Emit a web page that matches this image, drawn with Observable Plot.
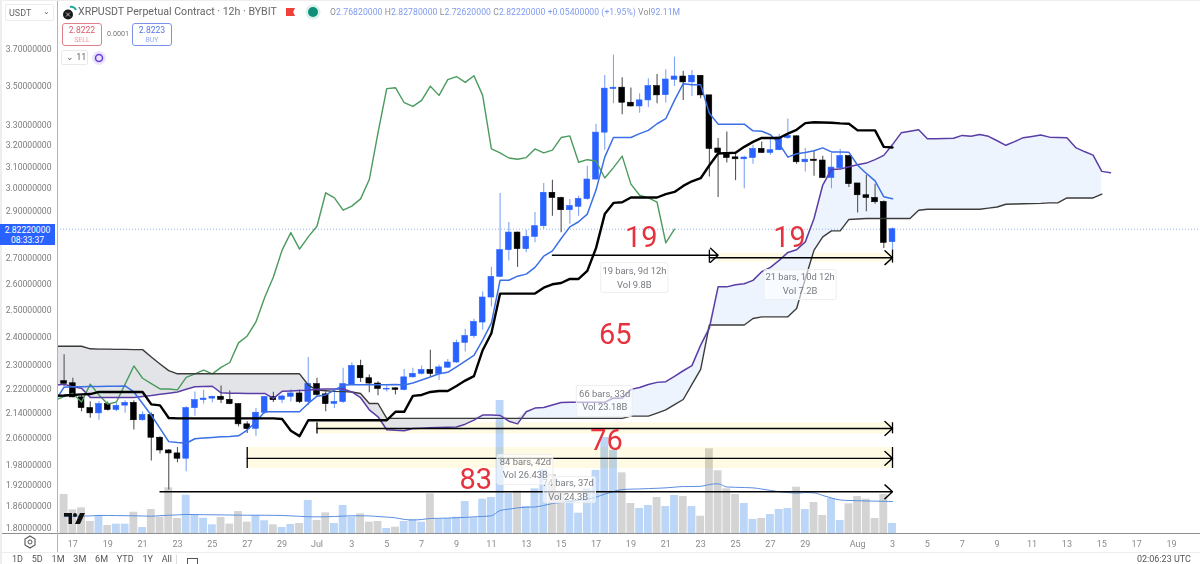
<!DOCTYPE html>
<html><head><meta charset="utf-8">
<script src="https://cdn.jsdelivr.net/npm/d3@7"></script>
<script src="https://cdn.jsdelivr.net/npm/@observablehq/plot@0.6"></script>
<style>
html,body{margin:0;padding:0;background:#fff;font-family:Roboto,sans-serif;}
#wrap{position:relative;width:1200px;height:564px;overflow:hidden;background:#fff;}
#wrap svg.plot,#vol svg,#main svg{position:absolute;left:0;top:0;background:transparent;}
.o{position:absolute;white-space:nowrap;}
</style></head><body>
<div id="wrap">
<div id="vol"></div><div id="main"></div>
<div class="o" style="left:0;top:533px;width:1200px;height:1px;background:#8f8f8f"></div>
<div class="o" style="left:0;top:552px;width:1200px;height:1px;background:#eeeeee"></div>
<div class="o" style="left:56.5px;top:0;width:1.5px;height:552px;background:#b4b4b4"></div>
<div class="o" style="left:0;top:0;width:2px;height:564px;background:#eeeeee"></div>
<div class="o" style="left:0;top:0;width:1200px;height:1px;background:#eeeeee"></div>
<div class="o" style="left:0;top:224px;width:55px;height:21px;background:#2962ff;color:#fff;font-size:8.6px;text-align:center;line-height:10px;padding-top:1px;box-sizing:border-box">2.82220000<br>08:33:37</div>
<div class="o" style="left:5px;top:4px;width:49px;height:17px;border:1px solid #ececec;border-radius:2px;box-sizing:border-box;font-size:9px;color:#666;line-height:16px;padding-left:3px">USDT<span style="position:absolute;right:3px;top:-1px;font-size:8px">⌄</span></div>
<svg class="o" style="left:62px;top:5px" width="16" height="16" viewBox="0 0 16 16"><circle cx="6" cy="9.5" r="5" fill="#1a1a1a"/><path d="M8 2a5 5 0 0 1 6 3" stroke="#21a79b" stroke-width="2" fill="none"/><path d="M4 7.5l4 4M8 7.5l-4 4" stroke="#ddd" stroke-width=".8"/></svg>
<div class="o" style="left:78px;top:5px;font-size:10.6px;color:#666;line-height:14px">XRPUSDT Perpetual Contract · 12h · BYBIT</div>
<div class="o" style="left:286px;top:8px;width:9px;height:8px;background:#f1403c;clip-path:polygon(0 0,100% 0,80% 50%,100% 100%,0 100%)"></div>
<div class="o" style="left:308px;top:7px;width:10px;height:10px;border-radius:50%;background:#0f8f78;box-shadow:0 0 0 2.5px #dcf0ec"></div>
<div class="o" style="left:330px;top:6px;font-size:8.6px;letter-spacing:.08px;color:#8e8e8e;line-height:13px">O<span style="color:#7f9bee">2.76820000</span> H<span style="color:#7f9bee">2.82780000</span> L<span style="color:#7f9bee">2.72620000</span> C<span style="color:#7f9bee">2.82220000</span> <span style="color:#7f9bee">+0.05400000 (+1.95%)</span> Vol<span style="color:#7f9bee">92.11M</span></div>
<div class="o" style="left:62px;top:23px;width:40px;height:23px;border:1px solid #e0808c;border-radius:3px;box-sizing:border-box;text-align:center;font-size:8.6px;line-height:9px;padding-top:2px;color:#dc5c6a">2.8222<br><span style="font-size:7px;color:#ef9aa3">SELL</span></div>
<div class="o" style="left:107px;top:29px;font-size:7.2px;color:#777;line-height:10px">0.0001</div>
<div class="o" style="left:132px;top:23px;width:40px;height:23px;border:1px solid #7a92e8;border-radius:3px;box-sizing:border-box;text-align:center;font-size:8.6px;line-height:9px;padding-top:2px;color:#5576e6">2.8223<br><span style="font-size:7px;color:#96aaf0">BUY</span></div>
<div class="o" style="left:61px;top:50px;width:27px;height:15px;border:1px solid #e9e9e9;border-radius:2px;box-sizing:border-box;font-size:9px;color:#666;line-height:13px;padding-left:4px">⌄ 11</div>
<svg class="o" style="left:92px;top:51px" width="14" height="14" viewBox="0 0 14 14"><circle cx="7" cy="7" r="7" fill="#ece6fb"/><circle cx="7" cy="7" r="3.5" fill="none" stroke="#6a3fe0" stroke-width="1.6"/></svg>
<svg class="o" style="left:64px;top:513px" width="22" height="12" viewBox="0 0 22 12"><path d="M0 0h8v11h-3.5v-7.5h-4.5z" fill="#111"/><circle cx="11" cy="2" r="2" fill="#111"/><path d="M16 0h5l-5 11h-5z" fill="#111"/></svg>
<svg class="o" style="left:23px;top:535px" width="14" height="14" viewBox="0 0 14 14"><path d="M7 1l5 3v6l-5 3-5-3v-6z" fill="none" stroke="#555" stroke-width="1.1"/><circle cx="7" cy="7" r="2" fill="none" stroke="#555" stroke-width="1"/></svg>
<div class="o" style="left:12px;top:554px;font-size:9px;color:#555;line-height:10px;word-spacing:6.6px">1D 5D 1M 3M 6M YTD 1Y All</div>
<div class="o" style="left:176px;top:555px;width:1px;height:9px;background:#ddd"></div>
<div class="o" style="left:187px;top:558px;width:11px;height:8px;border:1px solid #555;box-sizing:border-box"></div>
<div class="o" style="left:1137px;top:554px;font-size:9px;color:#555;line-height:10px">02:06:23 UTC</div>
</div>
<script>
const priceTicks=[3.7,3.5,3.3,3.2,3.1,3.0,2.9,2.7,2.6,2.5,2.4,2.3,2.22,2.14,2.06,1.98,1.92,1.86,1.8];
const tickBars=[1,5,9,13,17,21,25,29,33,37,41,45,49,53,57,61,65,69,73,77,81,85,91,95,99,103,107,111,115,119,123,127];
const tickLabels=["17","19","21","23","25","27","29","Jul","3","5","7","9","11","13","15","17","19","21","23","25","27","29","Aug","3","5","7","9","11","13","15","17","19"];
const opens=[2.246,2.239,2.192,2.157,2.140,2.170,2.151,2.165,2.174,2.118,2.135,2.063,2.024,2.015,1.999,2.157,2.183,2.188,2.194,2.184,2.170,2.105,2.091,2.142,2.193,2.184,2.194,2.205,2.177,2.236,2.202,2.171,2.177,2.234,2.298,2.256,2.238,2.218,2.222,2.216,2.259,2.271,2.284,2.271,2.292,2.310,2.379,2.403,2.453,2.547,2.627,2.735,2.808,2.739,2.790,2.835,2.981,2.958,2.904,2.919,2.953,3.041,3.263,3.484,3.491,3.413,3.394,3.425,3.499,3.452,3.533,3.550,3.519,3.554,3.451,3.186,3.165,3.144,3.135,3.141,3.184,3.165,3.178,3.236,3.245,3.121,3.133,3.129,3.048,3.093,3.150,3.023,2.970,2.958,2.940,2.7682];
const highs=[2.337,2.256,2.200,2.178,2.178,2.177,2.172,2.181,2.181,2.145,2.141,2.066,2.027,2.033,2.161,2.210,2.216,2.196,2.230,2.213,2.172,2.113,2.156,2.195,2.209,2.200,2.218,2.216,2.327,2.256,2.210,2.208,2.290,2.309,2.318,2.267,2.244,2.231,2.224,2.286,2.290,2.298,2.353,2.301,2.320,2.389,2.428,2.465,2.569,2.665,2.978,2.851,2.810,2.818,2.894,3.023,3.038,2.961,2.951,2.966,3.102,3.304,3.556,3.666,3.543,3.489,3.460,3.538,3.561,3.587,3.655,3.579,3.583,3.556,3.451,3.234,3.266,3.162,3.149,3.202,3.218,3.234,3.255,3.330,3.247,3.186,3.173,3.149,3.162,3.181,3.150,3.024,3.060,3.020,2.945,2.8278];
const lows=[2.227,2.191,2.145,2.124,2.118,2.148,2.145,2.140,2.087,2.115,1.992,2.013,1.907,1.987,1.960,2.131,2.170,2.174,2.172,2.168,2.097,2.076,2.068,2.137,2.175,2.172,2.177,2.172,2.165,2.196,2.145,2.156,2.172,2.233,2.242,2.207,2.197,2.210,2.200,2.214,2.256,2.267,2.259,2.248,2.290,2.307,2.347,2.395,2.425,2.511,2.626,2.691,2.665,2.724,2.765,2.822,2.878,2.807,2.843,2.878,2.948,3.038,3.178,3.408,3.352,3.391,3.360,3.388,3.408,3.411,3.498,3.425,3.445,3.434,3.053,2.960,3.118,3.036,2.999,3.112,3.162,3.154,3.175,3.231,3.112,3.076,3.056,3.047,2.999,3.089,3.005,2.892,2.897,2.930,2.742,2.7262];
const closes=[2.237,2.192,2.157,2.140,2.170,2.151,2.164,2.174,2.118,2.135,2.063,2.024,2.015,1.999,2.157,2.183,2.188,2.194,2.184,2.170,2.105,2.090,2.142,2.193,2.183,2.195,2.205,2.177,2.236,2.200,2.170,2.177,2.236,2.298,2.256,2.238,2.220,2.220,2.217,2.259,2.271,2.284,2.271,2.293,2.310,2.379,2.404,2.455,2.547,2.627,2.735,2.808,2.739,2.790,2.835,2.981,2.958,2.904,2.922,2.954,3.041,3.263,3.486,3.491,3.413,3.394,3.425,3.499,3.451,3.534,3.550,3.519,3.554,3.451,3.184,3.165,3.141,3.135,3.143,3.184,3.165,3.178,3.239,3.247,3.121,3.133,3.127,3.048,3.096,3.150,3.020,2.970,2.958,2.939,2.765,2.8222];
const volumes=[359,218,236,110,166,74,86,86,196,55,221,150,420,138,352,175,141,80,147,86,202,104,166,117,80,55,83,92,304,120,190,92,258,150,181,104,110,46,58,110,129,104,365,129,135,150,294,144,316,331,1224,368,389,248,411,586,543,368,304,187,411,580,883,764,558,276,230,258,331,248,350,340,248,159,779,577,411,359,276,129,138,175,221,230,426,221,285,166,322,120,273,340,316,138,359,92];
const volumeMA=[156,158,160,162,166,166,165,164,163,161,159,164,168,171,175,174,173,172,171,170,169,168,168,168,167,166,162,158,154,153,154,156,160,163,163,162,156,151,144,130,124,129,138,140,142,145,148,153,157,163,212,224,236,242,244,258,276,285,294,306,316,334,363,386,405,408,410,413,416,420,426,432,432,434,451,457,428,425,423,420,409,396,384,377,371,377,374,350,327,308,304,302,299,298,296,294];
// Ichimoku: first entry of tenkan, kijun and senkouB is the partly hidden bar just left of the first candle.
const tenkan=[2.181,2.226,2.227,2.227,2.228,2.228,2.229,2.229,2.230,2.210,2.172,2.134,2.092,2.051,2.048,2.046,2.060,2.062,2.064,2.066,2.067,2.069,2.087,2.113,2.145,2.145,2.145,2.145,2.145,2.172,2.196,2.200,2.216,2.233,2.234,2.234,2.234,2.234,2.234,2.235,2.233,2.240,2.250,2.260,2.271,2.276,2.295,2.315,2.335,2.389,2.451,2.614,2.614,2.630,2.638,2.665,2.710,2.732,2.783,2.832,2.854,2.887,2.993,3.145,3.239,3.239,3.239,3.258,3.274,3.307,3.332,3.425,3.512,3.507,3.507,3.359,3.305,3.305,3.305,3.305,3.272,3.270,3.253,3.210,3.145,3.161,3.167,3.175,3.189,3.170,3.169,3.168,3.107,3.069,3.035,2.963,2.954];
const kijun=[2.197,2.198,2.200,2.202,2.203,2.210,2.210,2.210,2.210,2.210,2.210,2.169,2.166,2.125,2.124,2.124,2.124,2.124,2.124,2.124,2.124,2.124,2.124,2.124,2.124,2.124,2.122,2.085,2.068,2.118,2.118,2.118,2.118,2.118,2.118,2.118,2.118,2.118,2.118,2.145,2.145,2.197,2.200,2.210,2.213,2.213,2.230,2.248,2.263,2.353,2.414,2.562,2.562,2.562,2.562,2.562,2.585,2.598,2.603,2.619,2.619,2.651,2.743,2.887,2.936,2.939,2.960,2.960,2.960,2.960,2.975,2.985,3.012,3.033,3.047,3.107,3.162,3.164,3.166,3.194,3.218,3.237,3.237,3.237,3.258,3.277,3.310,3.314,3.313,3.312,3.309,3.307,3.274,3.274,3.274,3.194,3.191];
const senkouAEarly=[2.233,2.236,2.227,2.222,2.192,2.192,2.192,2.192,2.192,2.192,2.195,2.198,2.202,2.206,2.210,2.219,2.227,2.228,2.229,2.207,2.206,2.206,2.205,2.205,2.205];
const senkouB=[2.367,2.367,2.367,2.367,2.358,2.357,2.357,2.356,2.356,2.355,2.355,2.329,2.305,2.282,2.271,2.271,2.271,2.271,2.271,2.271,2.271,2.271,2.271,2.271,2.271,2.271,2.271,2.271,2.271,2.233,2.216,2.214,2.212,2.211,2.210,2.205,2.172,2.172,2.124,2.124,2.124,2.124,2.124,2.124,2.124,2.124,2.124,2.124,2.124,2.124,2.124,2.124,2.124,2.124,2.124,2.124,2.124,2.124,2.124,2.124,2.124,2.124,2.124,2.124,2.124,2.124,2.131,2.131,2.131,2.141,2.151,2.168,2.185,2.235,2.286,2.444,2.444,2.444,2.444,2.444,2.468,2.474,2.474,2.474,2.474,2.505,2.62,2.735,2.790,2.815,2.815,2.864,2.866,2.868,2.868,2.868,2.868,2.868,2.868,2.904,2.908,2.908,2.908,2.908,2.908,2.908,2.908,2.913,2.918,2.930,2.931,2.932,2.933,2.934,2.936,2.937,2.958,2.958,2.958,2.958,2.975];
// Date-range tools
const toolStart=[56,74,29,21,11], toolEnd=[75,95,95,95,95], toolPrice=[2.714,2.704,2.092,2.000,1.902];
const bandStart=[75,29,21], bandEnd=[95,95,95], bandHigh=[2.722,2.110,2.033], bandLow=[2.686,2.075,1.970];
const capBar=[74,95,29,95,21,95], capHigh=[2.735,2.735,2.110,2.110,2.033,2.033], capLow=[2.682,2.682,2.075,2.075,1.970,1.970];
const boxStart=[61.6,80.3,58.8,55,49.7], boxEnd=[69.3,88.6,65.2,61,56.1], boxHigh=[2.682,2.654,2.230,1.945,2.010], boxLow=[2.564,2.537,2.128,1.870,1.922];
const boxBar=[65.4,84.4,62,57.8,52.9];
const boxLine1=["19 bars, 9d 12h","21 bars, 10d 12h","66 bars, 33d","74 bars, 37d","84 bars, 42d"], boxLine1Price=[2.650,2.626,2.203,1.927,1.989];
const boxLine2=["Vol 9.8B","Vol 7.2B","Vol 23.18B","Vol 24.3B","Vol 26.43B"], boxLine2Price=[2.595,2.571,2.159,1.887,1.950];
const noteText=["19","19","65","76","83"], noteBar=[66.2,83.2,63.2,62.2,47.2], notePrice=[2.788,2.788,2.409,2.053,1.938];

const bars=opens.map((o,i)=>({i,o,h:highs[i],l:lows[i],c:closes[i],v:volumes[i],ma:volumeMA[i],up:closes[i]>=o}));
const series=(arr,start)=>arr.map((y,k)=>({i:k+start,y}));
const senkouA=senkouAEarly.concat(tenkan.map((t,k)=>(t+kijun[k])/2));
const cloud=senkouB.map((b,k)=>({i:k-1,a:senkouA[k],b,top:Math.max(senkouA[k],b)}));
const chikou=closes.slice(24).map((y,k)=>({i:k-1,y}));
const tools=toolStart.map((s,k)=>({s,e:toolEnd[k],p:toolPrice[k]}));
const bands=bandStart.map((s,k)=>({s,e:bandEnd[k],h:bandHigh[k],l:bandLow[k]}));
const caps=capBar.map((i,k)=>({i,h:capHigh[k],l:capLow[k]}));
const notes=noteText.map((t,k)=>({t,i:noteBar[k],p:notePrice[k]}));
const xDomain=[-0.757,130.32], xRange=[57,1200];

const volPlot=Plot.plot({width:1200,height:564,marginLeft:57,marginRight:0,marginTop:0,marginBottom:31,
  x:{domain:xDomain,range:xRange,axis:null},
  y:{domain:[0,1000],range:[533,424.3],axis:null},
  style:{background:"transparent"},
  marks:[
    Plot.rect(bars,{x1:d=>d.i-0.45,x2:d=>d.i+0.45,y1:0,y2:"v",fill:d=>d.up?"#bcd6f7":"#d4d4d4",clip:true}),
    Plot.line(bars,{x:"i",y:"ma",stroke:"#5a8fe0",strokeWidth:1,curve:"monotone-x"})
  ]});
document.getElementById("vol").appendChild(volPlot);

const boxes=boxStart.map((s,k)=>({s,e:boxEnd[k],h:boxHigh[k],l:boxLow[k],x:boxBar[k],t1:boxLine1[k],p1:boxLine1Price[k],t2:boxLine2[k],p2:boxLine2Price[k]}));
const boxMarks=boxes.flatMap(b=>[
  Plot.rect([b],{x1:"s",x2:"e",y1:"l",y2:"h",fill:"#ffffff",fillOpacity:0.62,stroke:"#eeeeee",strokeWidth:1,rx:2}),
  Plot.text([b],{x:"x",y:"p1",text:"t1",fontSize:9.4,fill:"#777b80"}),
  Plot.text([b],{x:"x",y:"p2",text:"t2",fontSize:9.4,fill:"#777b80"})
]);
const mainPlot=Plot.plot({width:1200,height:564,marginLeft:57,marginRight:0,marginTop:0,marginBottom:31,
  x:{domain:xDomain,range:xRange},
  y:{type:"log",domain:[1.8,3.7],range:[528,48.5]},
  style:{background:"transparent",fontFamily:"Roboto, sans-serif"},
  marks:[
    Plot.rect(bands,{x1:"s",x2:"e",y1:"l",y2:"h",fill:"#fffae3",mixBlendMode:"multiply"}),
    Plot.area(cloud,{x1:"i",y1:"b",y2:"top",fill:"#edf4fe",clip:true,mixBlendMode:"multiply"}),
    Plot.area(cloud,{x1:"i",y1:"a",y2:"top",fill:"#e3e4e8",clip:true,mixBlendMode:"multiply"}),
    Plot.ruleY([2.8222],{stroke:"#8fb3e8",strokeDasharray:"1,2",strokeWidth:1}),
    Plot.ruleX(bars,{x:"i",y1:"l",y2:"h",stroke:d=>d.up?"#7ea3f6":"#555555",strokeWidth:1.1}),
    Plot.rect(bars,{x1:d=>d.i-0.33,x2:d=>d.i+0.33,y1:"o",y2:"c",fill:d=>d.up?"#2962ff":"#000000",stroke:d=>d.up?"#2962ff":"#000000",strokeWidth:0.6}),
    Plot.line(chikou,{x:"i",y:"y",stroke:"#4b9a5e",strokeWidth:1.4,clip:true}),
    Plot.line(series(senkouB,-1),{x:"i",y:"y",stroke:"#3b3b3b",strokeWidth:1.4,clip:true}),
    Plot.line(series(senkouA,-1),{x:"i",y:"y",stroke:"#5a3ea6",strokeWidth:1.5,clip:true}),
    Plot.line(series(tenkan,-1),{x:"i",y:"y",stroke:"#3a6fe6",strokeWidth:1.5,clip:true}),
    Plot.line(series(kijun,-1),{x:"i",y:"y",stroke:"#000000",strokeWidth:2.4,clip:true}),
    Plot.ruleX(caps,{x:"i",y1:"l",y2:"h",stroke:"#000",strokeWidth:1.3}),
    Plot.arrow(tools,{x1:"s",x2:"e",y1:"p",y2:"p",stroke:"#000",strokeWidth:1.4,headLength:11,headAngle:85}),
    ...boxMarks,
    Plot.text(notes,{x:"i",y:"p",text:"t",fontSize:29,fill:"#e5323e"}),
    Plot.axisY({ticks:priceTicks,tickFormat:d=>d.toFixed(8),tickSize:0,tickPadding:6,fontSize:8.6,fill:"#7c7c7c",label:null}),
    Plot.axisX({ticks:tickBars,tickFormat:d=>tickLabels[tickBars.indexOf(d)],tickSize:0,tickPadding:7,fontSize:9,fill:"#8a8a8a",label:null})
  ]});
document.getElementById("main").appendChild(mainPlot);
</script>
</body></html>
